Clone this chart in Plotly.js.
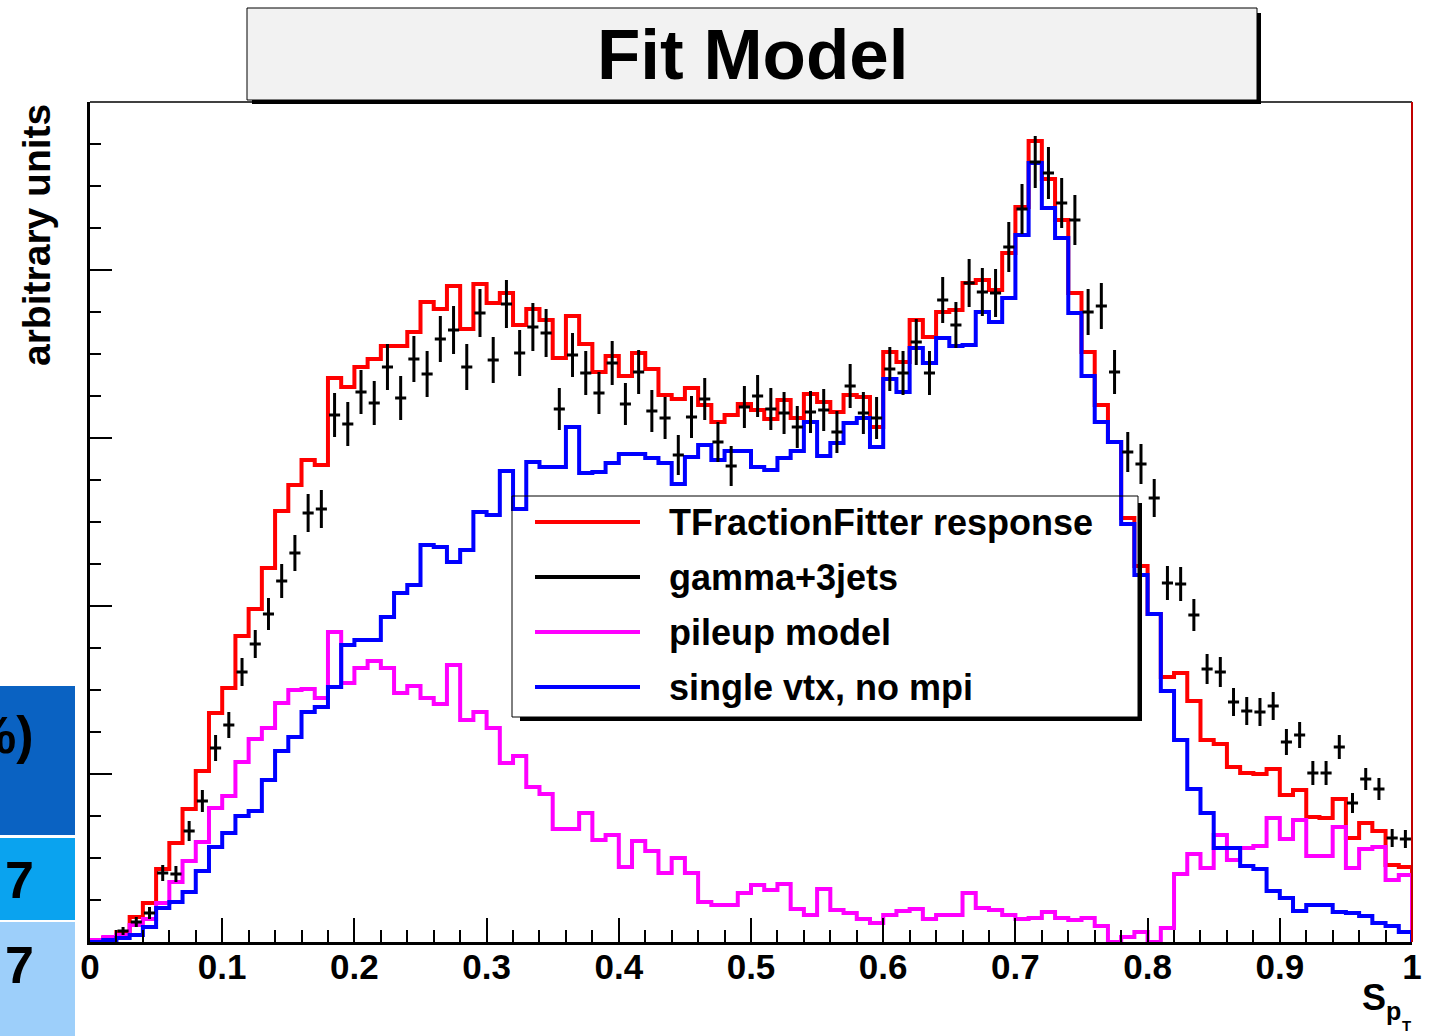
<!DOCTYPE html>
<html>
<head>
<meta charset="utf-8">
<script src="https://cdn.plot.ly/plotly-3.0.1.min.js"></script>
<style>html,body{margin:0;padding:0;background:#fff;}#chart{width:1430px;height:1036px;}</style>
</head>
<body>
<div id="chart"></div>
<script>
// ---- data (arbitrary units, 100 bins over S_pT in [0,1]) ----
const xMin = 0, xMax = 1, nBins = 100;
const seriesNames = ["TFractionFitter response", "gamma+3jets", "pileup model", "single vtx, no mpi"];
const seriesColors = ["#ff0000", "#000000", "#ff00ff", "#0000ff"];

const fitResponse = [1,4,10,25,39,73,99,133,171,229,254,306,333,374,431,457,482,477,564,555,
 575,583,596,596,610,640,633,656,613,658,639,649,617,633,622,584,626,598,570,586,
 566,589,573,547,543,554,537,520,527,538,532,523,542,524,548,540,530,547,545,515,
 590,580,622,605,630,632,659,662,652,689,735,801,763,722,649,590,537,500,424,376,
 328,265,269,241,202,198,175,169,168,173,147,152,125,124,143,104,119,111,77,75];

const singleVtx = [0,2,4,7,15,34,40,50,71,95,109,126,131,162,191,205,230,235,255,297,
 302,302,325,349,357,397,395,380,392,430,427,471,433,480,475,475,515,469,470,479,
 488,488,484,479,458,485,497,482,491,491,475,472,484,491,520,486,499,519,524,495,
 563,550,594,579,604,596,597,630,620,644,707,779,734,704,629,566,520,500,418,367,
 328,251,202,153,129,94,94,76,73,51,44,31,37,37,30,29,26,19,16,10];

const pileup = [2,5,7,17,23,39,60,81,100,134,146,180,203,214,239,252,253,244,310,259,
 274,281,274,249,256,244,238,277,222,230,214,179,186,155,148,113,113,129,102,107,
 75,101,91,69,84,69,40,37,37,49,57,52,58,33,27,53,32,29,23,19,
 27,31,33,23,27,27,49,34,32,27,23,24,30,24,22,24,16,0,5,10,
 0,14,68,88,74,107,82,94,96,124,103,122,86,86,115,74,93,95,62,67];

const gammaData = [null,null,11,20,29,69,68,111,141,194,217,270,298,328,361,389,429,433,527,518,
 550,539,575,544,583,568,603,612,575,629,582,638,589,615,609,533,587,569,549,579,
 538,570,531,524,487,525,543,500,476,535,546,533,529,515,530,532,510,556,529,524,
 573,569,600,569,642,617,659,650,649,695,733,780,769,739,722,630,636,570,490,478,
 444,359,358,327,273,270,240,231,230,236,200,207,169,169,195,139,163,153,104,103];

const gammaErr = [0,0,4,5,6,8,8,10,11,13,13,14,14,16,17,18,19,19,22,22,
 22,22,23,22,23,23,23,24,23,24,23,24,23,24,24,21,22,22,21,22,
 21,22,21,21,20,21,21,20,20,21,21,21,21,21,21,21,21,22,21,21,
 22,22,23,22,23,23,24,24,24,25,25,26,26,25,25,23,23,22,20,20,
 19,17,17,16,15,15,14,14,14,14,13,13,12,12,12,10,11,11,9,9];

// ---- helpers ----
const bw = (xMax - xMin) / nBins;
const lowEdges = fitResponse.map((_, i) => xMin + i * bw);
const centers = lowEdges.map(e => e + bw / 2);

function stepTrace(vals, color, name) {
  const x = [xMin].concat(lowEdges, [xMax, xMax]);
  const y = [0].concat(vals, [vals[vals.length - 1], 0]);
  return {x: x, y: y, type: 'scatter', mode: 'lines', name: name,
          line: {shape: 'hv', color: color, width: 4}, showlegend: false, hoverinfo: 'skip'};
}

const traces = [
  stepTrace(fitResponse, seriesColors[0], seriesNames[0]),
  stepTrace(pileup, seriesColors[2], seriesNames[2]),
  stepTrace(singleVtx, seriesColors[3], seriesNames[3]),
  {x: centers, y: gammaData, type: 'scatter', mode: 'markers', name: seriesNames[1],
   marker: {size: 1, color: '#000'}, showlegend: false,
   error_y: {type: 'data', array: gammaErr, visible: true, thickness: 3, width: 0, color: '#000'},
   error_x: {type: 'constant', value: bw * 0.42, visible: true, thickness: 3, width: 0, color: '#000'}}
];

// pixel helpers for decorations (plot area: x 90..1412, y 102..942)
const L = 90, R = 1412, T = 102, B = 942;
const px = v => (v - L) / (R - L);
const py = v => (B - v) / (B - T);

const F = 'Liberation Sans, Arial, Helvetica, sans-serif';
const shapes = [];
const annotations = [];

// frame top and right
shapes.push({type: 'line', xref: 'paper', yref: 'paper', x0: 0, x1: 1, y0: 1, y1: 1, line: {color: '#000', width: 1.5}});
shapes.push({type: 'line', xref: 'paper', yref: 'paper', x0: 1, x1: 1, y0: 0, y1: 1, line: {color: '#c00000', width: 2}});

// title box with shadow
shapes.push({type: 'rect', xref: 'paper', yref: 'paper', x0: px(252), x1: px(1261), y0: py(104), y1: py(13), fillcolor: '#000', line: {width: 0}});
shapes.push({type: 'rect', xref: 'paper', yref: 'paper', x0: px(247), x1: px(1257), y0: py(100), y1: py(8), fillcolor: '#f2f2f2', line: {color: '#000', width: 1}});
annotations.push({xref: 'paper', yref: 'paper', x: px(753), y: py(55), text: 'Fit Model', showarrow: false,
  xanchor: 'center', yanchor: 'middle', font: {family: F, size: 71, color: '#000', weight: 'bold'}});

// legend box (transparent) with shadow
shapes.push({type: 'rect', xref: 'paper', yref: 'paper', x0: px(520), x1: px(1142), y0: py(721), y1: py(717), fillcolor: '#000', line: {width: 0}});
shapes.push({type: 'rect', xref: 'paper', yref: 'paper', x0: px(1138), x1: px(1142), y0: py(721), y1: py(503), fillcolor: '#000', line: {width: 0}});
shapes.push({type: 'rect', xref: 'paper', yref: 'paper', x0: px(512), x1: px(1138), y0: py(717), y1: py(496), fillcolor: 'rgba(0,0,0,0)', line: {color: '#000', width: 1}});
const legendRows = [522, 577, 632, 687];
seriesNames.forEach((nm, i) => {
  shapes.push({type: 'line', xref: 'paper', yref: 'paper', x0: px(535), x1: px(640), y0: py(legendRows[i]), y1: py(legendRows[i]),
    line: {color: seriesColors[i], width: 4}});
  annotations.push({xref: 'paper', yref: 'paper', x: px(667), y: py(legendRows[i]), text: nm, showarrow: false,
    xanchor: 'left', yanchor: 'middle', font: {family: F, size: 36, color: '#000', weight: 'bold'}});
});

// y axis title
annotations.push({xref: 'paper', yref: 'paper', x: px(36), y: py(102), text: 'arbitrary units', textangle: -90, showarrow: false,
  xanchor: 'center', yanchor: 'top', font: {family: F, size: 39, color: '#000', weight: 'bold'}});

// x axis title S_{p_T}
annotations.push({xref: 'paper', yref: 'paper', x: px(1374), y: py(997), text: 'S', showarrow: false,
  xanchor: 'center', yanchor: 'middle', font: {family: F, size: 36, color: '#000', weight: 'bold'}});
annotations.push({xref: 'paper', yref: 'paper', x: px(1393), y: py(1011), text: 'p', showarrow: false,
  xanchor: 'center', yanchor: 'middle', font: {family: F, size: 25, color: '#000', weight: 'bold'}});
annotations.push({xref: 'paper', yref: 'paper', x: px(1406), y: py(1025), text: 'T', showarrow: false,
  xanchor: 'center', yanchor: 'middle', font: {family: F, size: 15, color: '#000', weight: 'bold'}});

// partial slide table at left edge
const tableRects = [[686, 835, '#0a62c2'], [838, 920, '#0aa3ef'], [922, 1036, '#9dcffa']];
tableRects.forEach(r => shapes.push({type: 'rect', xref: 'paper', yref: 'paper', x0: px(-5), x1: px(75), y0: py(r[1]), y1: py(r[0]),
  fillcolor: r[2], line: {width: 0}, layer: 'below'}));
const tableTexts = [['%)', 735, 52], ['7', 880, 52], ['7', 965, 52]];
tableTexts.forEach(t => annotations.push({xref: 'paper', yref: 'paper', x: px(36), y: py(t[1]), text: t[0], showarrow: false,
  xanchor: 'right', yanchor: 'middle', font: {family: F, size: t[2], color: '#000', weight: 'bold'}}));

const layout = {
  width: 1430, height: 1036,
  margin: {l: L, r: 1430 - R, t: T, b: 1036 - B, pad: 0},
  paper_bgcolor: '#fff', plot_bgcolor: '#fff',
  showlegend: false,
  xaxis: {range: [xMin, xMax], dtick: 0.1, tick0: 0, ticks: 'inside', ticklen: 24, tickwidth: 2, tickcolor: '#000',
    minor: {dtick: 0.02, tick0: 0, ticks: 'inside', ticklen: 12, tickwidth: 2, tickcolor: '#000'},
    showline: true, linewidth: 3, linecolor: '#000', showgrid: false, zeroline: false, ticklabelstandoff: -8,
    tickfont: {family: F, size: 35, color: '#000', weight: 'bold'}, fixedrange: true},
  yaxis: {range: [0, 840], dtick: 168, tick0: 0, ticks: 'inside', ticklen: 22, tickwidth: 2, tickcolor: '#000',
    minor: {dtick: 42, tick0: 0, ticks: 'inside', ticklen: 11, tickwidth: 2, tickcolor: '#000'},
    showticklabels: false, showline: true, linewidth: 3, linecolor: '#000', showgrid: false, zeroline: false, fixedrange: true},
  shapes: shapes,
  annotations: annotations
};

Plotly.newPlot('chart', traces, layout, {displayModeBar: false, staticPlot: true});
</script>
</body>
</html>
